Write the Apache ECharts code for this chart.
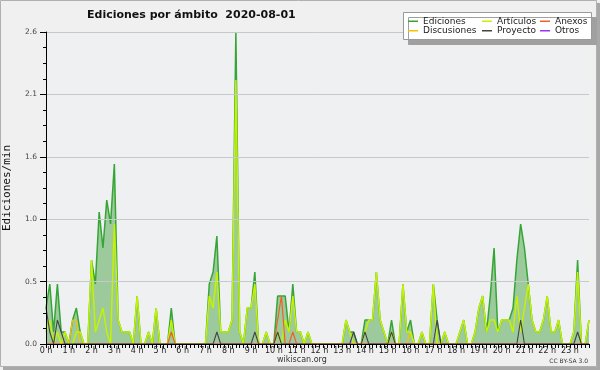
<!DOCTYPE html>
<html><head><meta charset="utf-8">
<script src="https://cdn.jsdelivr.net/npm/echarts@6/dist/echarts.min.js"></script>
<style>html,body{margin:0;padding:0;background:#f0f0f0;}#c{width:600px;height:370px;}</style>
</head><body><div id="c"></div>
<script>
// hour tick labels (one per 6 buckets of 10 minutes)
const hourLabels = ['0 h','1 h','2 h','3 h','4 h','5 h','6 h','7 h','8 h','9 h','10 h','11 h','12 h','13 h','14 h','15 h','16 h','17 h','18 h','19 h','20 h','21 h','22 h','23 h'];
const yTickLabels = ['0.0','0.5','1.0','1.6','2.1','2.6'];
// categories: 10-minute buckets
const categories = [];
for (let h = 0; h < 24; h++) for (let m = 0; m < 60; m += 10) categories.push(h + ':' + (m < 10 ? '0' + m : m));

// series values, edits per minute, one row per hour
const ediciones = [
0.3,0.5,0.1,0.5,0.1,0.1,
0,0.2,0.3,0.1,0,0,
0.7,0.5,1.1,0.8,1.2,1.0,
1.5,0.2,0.1,0.1,0.1,0,
0.4,0,0,0.1,0,0.3,
0,0,0,0.3,0,0,
0,0,0,0,0,0,
0,0.5,0.6,0.9,0.1,0.1,
0.1,0.2,2.6,0.1,0,0.3,
0.3,0.6,0,0,0.1,0,
0,0.4,0.4,0.4,0.1,0.5,
0.1,0.1,0,0.1,0,0,
0,0,0,0,0,0,
0,0.2,0.1,0.1,0,0,
0.2,0.2,0.2,0.6,0.2,0.1,
0,0.2,0,0,0.5,0.1,
0.2,0,0,0.1,0,0,
0.5,0.2,0,0.1,0,0,
0,0.1,0.2,0,0,0.1,
0.3,0.4,0.1,0.4,0.8,0.1,
0.2,0.2,0.2,0.3,0.7,1.0,
0.8,0.5,0.2,0.1,0.1,0.2,
0.4,0.1,0.1,0.2,0,0,
0,0.1,0.7,0,0,0.2
];
const articulos = [
0.1,0.2,0,0.1,0,0.1,
0,0,0.1,0.1,0,0,
0.7,0.1,0.2,0.3,0.1,0,
1.0,0.2,0.1,0.1,0.1,0,
0.4,0,0,0.1,0,0.3,
0,0,0,0.2,0,0,
0,0,0,0,0,0,
0,0.4,0.3,0.6,0.1,0.1,
0.1,0.2,2.2,0.1,0,0.3,
0.3,0.5,0,0,0.1,0,
0,0.1,0,0.2,0.1,0.4,
0.1,0.1,0,0.1,0,0,
0,0,0,0,0,0,
0,0.2,0.1,0,0,0,
0.1,0.2,0.2,0.6,0.2,0.1,
0,0.1,0,0,0.5,0.1,
0.1,0,0,0.1,0,0,
0.5,0,0,0.1,0,0,
0,0.1,0.2,0,0,0.1,
0.3,0.4,0.1,0.2,0.2,0.1,
0.2,0.2,0.2,0.1,0.4,0.1,
0.3,0.5,0.2,0.1,0.1,0.2,
0.4,0.1,0.1,0.2,0,0,
0,0.1,0.6,0,0,0.2
];
const anexos = [
0,0,0,0,0,0,
0,0,0,0,0,0,
0,0,0,0,0,0,
0,0,0,0,0,0,
0,0,0,0,0,0,
0,0,0,0.1,0,0,
0,0,0,0,0,0,
0,0,0,0,0,0,
0,0,0,0,0,0,
0,0,0,0,0,0,
0,0.2,0.4,0,0,0.1,
0,0,0,0,0,0,
0,0,0,0,0,0,
0,0,0,0,0,0,
0,0,0,0,0,0,
0,0,0,0,0,0,
0,0,0,0,0,0,
0,0,0,0,0,0,
0,0,0,0,0,0,
0,0,0,0,0,0,
0,0,0,0,0,0,
0,0,0,0,0,0,
0,0,0,0,0,0,
0,0,0,0,0,0
];
const discusiones = [
0,0,0,0,0,0,
0,0.2,0.2,0,0,0,
0,0,0,0,0,0,
0,0,0,0,0,0,
0,0,0,0,0,0,
0,0,0,0,0,0,
0,0,0,0,0,0,
0,0,0,0,0,0,
0,0,0,0,0,0,
0,0,0,0,0,0,
0,0,0,0,0,0,
0,0,0,0,0,0,
0,0,0,0,0,0,
0,0,0,0,0,0,
0,0,0,0,0,0,
0,0,0,0,0,0,
0.1,0,0,0,0,0,
0,0,0,0,0,0,
0,0,0,0,0,0,
0,0,0,0,0,0,
0,0,0,0,0,0,
0,0,0,0,0,0,
0,0,0,0,0,0,
0,0,0,0,0,0
];
const proyecto = [
0.3,0.1,0,0.2,0.1,0,
0,0,0,0,0,0,
0,0,0,0,0,0,
0,0,0,0,0,0,
0,0,0,0,0,0,
0,0,0,0,0,0,
0,0,0,0,0,0,
0,0,0,0.1,0,0,
0,0,0,0,0,0,
0,0.1,0,0,0,0,
0,0.1,0,0,0,0,
0,0,0,0,0,0,
0,0,0,0,0,0,
0,0,0,0.1,0,0,
0.1,0,0,0,0,0,
0,0.1,0,0,0,0,
0,0,0,0,0,0,
0,0.2,0,0,0,0,
0,0,0,0,0,0,
0,0,0,0,0,0,
0,0,0,0,0,0.2,
0,0,0,0,0,0,
0,0,0,0,0,0,
0,0,0.1,0,0,0
];
const otros = [
0,0,0,0,0,0, 0,0,0,0,0,0, 0,0,0,0,0,0, 0,0,0,0,0,0,
0,0,0,0,0,0, 0,0,0,0,0,0, 0,0,0,0,0,0, 0,0,0,0,0,0,
0,0,0,0,0,0, 0,0,0,0,0,0, 0,0,0,0,0,0, 0,0,0,0,0,0,
0,0,0,0,0,0, 0,0,0,0,0,0, 0,0,0,0,0,0, 0,0,0,0,0,0,
0,0,0,0,0,0, 0,0,0,0,0,0, 0,0,0,0,0,0, 0,0,0,0,0,0,
0,0,0,0,0,0, 0,0,0,0,0,0, 0,0,0,0,0,0, 0,0,0,0,0,0
];

const chart = echarts.init(document.getElementById('c'), null, {renderer: 'canvas'});
const F = "'DejaVu Sans', sans-serif";
function line(name, data, color, width, z) {
  return {name: name, type: 'line', data: data, color: color, symbol: 'none', showSymbol: false,
    lineStyle: {color: color, width: width}, z: z, animation: false};
}
const edSeries = line('Ediciones', ediciones, '#35a535', 1.5, 2);
edSeries.areaStyle = {color: '#9dca9d', opacity: 1};
const legendCommon = {orient: 'vertical', itemGap: 0, icon: 'rect', itemWidth: 10, itemHeight: 1.5,
  selectedMode: false, textStyle: {fontFamily: F, fontSize: 9, color: '#222', lineHeight: 9.5, padding: 0}, padding: 0, z: 20};
chart.setOption({
  backgroundColor: '#f0f0f0',
  animation: false,
  title: {text: 'Ediciones por ámbito  2020-08-01', left: 82, top: 5,
    textStyle: {fontFamily: F, fontSize: 11, fontWeight: 'bold', color: '#111'}},
  graphic: [
    {type: 'rect', shape: {x: 0.5, y: 0.5, width: 596, height: 366}, style: {fill: 'none', stroke: '#b0b0b0', lineWidth: 1}, z: 0, silent: true},
    {type: 'rect', shape: {x: 597, y: 3, width: 3, height: 367}, style: {fill: '#a8a8a8'}, silent: true},
    {type: 'rect', shape: {x: 3, y: 367, width: 597, height: 3}, style: {fill: '#a8a8a8'}, silent: true},
    {type: 'rect', shape: {x: 403.5, y: 12.5, width: 188, height: 27}, style: {fill: '#ffffff', stroke: '#999', lineWidth: 1,
      shadowColor: '#a0a0a0', shadowOffsetX: 5, shadowOffsetY: 5, shadowBlur: 0}, z: 15, silent: true},
    {type: 'text', left: 277, top: 356, style: {text: 'wikiscan.org', font: "8px 'DejaVu Sans'", fill: '#333'}, silent: true},
    {type: 'text', right: 12, top: 358, style: {text: 'CC BY-SA 3.0', font: "6px 'DejaVu Sans'", fill: '#333'}, silent: true}
  ],
  legend: [
    Object.assign({}, legendCommon, {data: ['Ediciones', 'Discusiones'], left: 408, top: 16.5}),
    Object.assign({}, legendCommon, {data: ['Artículos', 'Proyecto'], left: 482, top: 16.5}),
    Object.assign({}, legendCommon, {data: ['Anexos', 'Otros'], left: 540, top: 16.5})
  ],
  grid: {left: 46, right: 11, top: 32, bottom: 26, show: true, backgroundColor: '#eff0f1', borderWidth: 0, outerBoundsMode: 'none'},
  xAxis: {
    type: 'category', data: categories, boundaryGap: false, z: 10,
    axisLine: {lineStyle: {color: '#000', width: 1}},
    axisTick: {show: true, interval: 0, length: 4, lineStyle: {color: '#000'}},
    axisLabel: {interval: 5, margin: 3, fontFamily: F, fontSize: 8, color: '#222',
      formatter: function (v, i) { return i % 6 === 0 ? hourLabels[i / 6] : ''; }},
    splitLine: {show: false}
  },
  yAxis: {
    type: 'value', min: 0, max: 2.6, interval: 0.52, z: 10,
    name: 'Ediciones/min', nameLocation: 'middle', nameGap: 33, nameRotate: 90,
    nameTextStyle: {fontFamily: "'DejaVu Sans Mono', monospace", fontSize: 11, color: '#111'},
    axisLine: {show: true, lineStyle: {color: '#000', width: 1}},
    axisTick: {show: true, length: 6, lineStyle: {color: '#000'}},
    minorTick: {show: true, splitNumber: 4, length: 3, lineStyle: {color: '#000'}},
    axisLabel: {margin: 9, fontFamily: F, fontSize: 7.5, color: '#444',
      formatter: function (v) { return yTickLabels[Math.round(v / 0.52)]; }},
    splitLine: {show: true, lineStyle: {color: '#c8c8c8', width: 1}}
  },
  series: [
    edSeries,
    line('Discusiones', discusiones, '#f5c400', 1.2, 3),
    line('Artículos', articulos, '#c4f200', 1.5, 4),
    line('Anexos', anexos, '#f0602a', 1.2, 5),
    line('Proyecto', proyecto, '#444444', 1.1, 6),
    line('Otros', otros, '#9933ff', 1, 3)
  ]
});
</script></body></html>
